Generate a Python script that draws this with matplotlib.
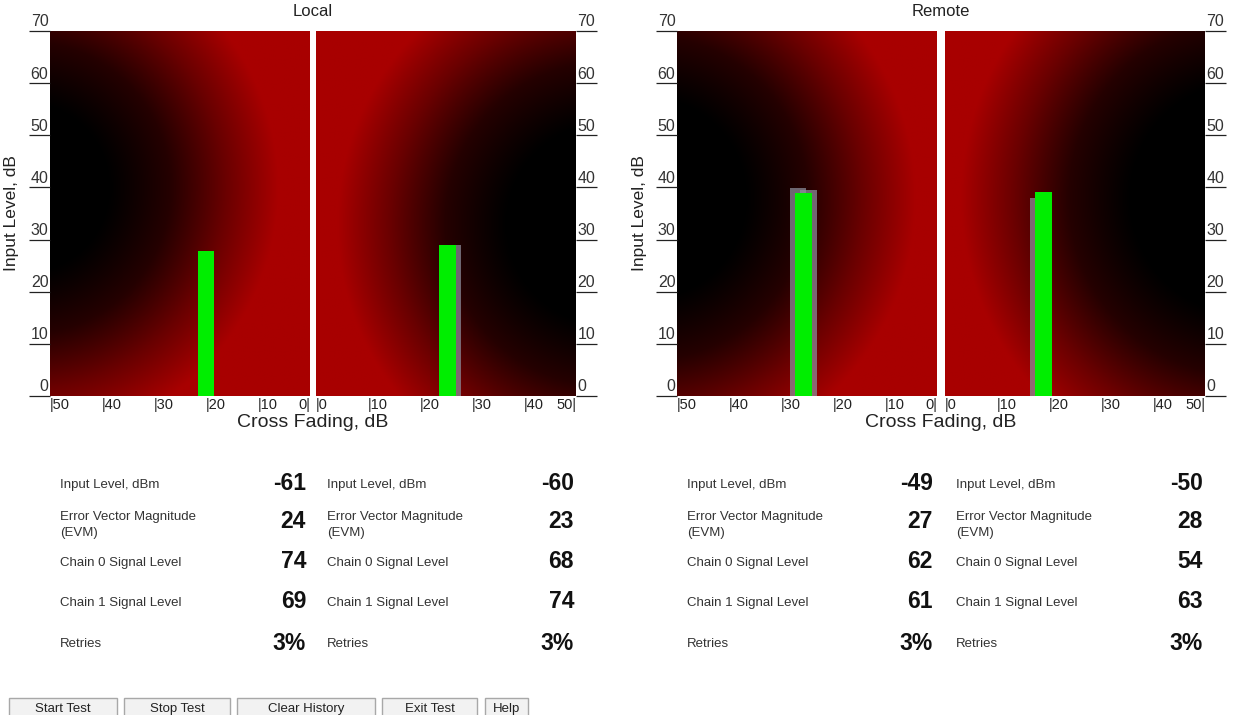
import numpy as np
import matplotlib
matplotlib.use("Agg")
import matplotlib.pyplot as plt
from matplotlib import font_manager
from matplotlib.colors import LinearSegmentedColormap
from matplotlib.patches import Rectangle
import matplotlib.transforms as mtransforms

# ---------------- data ----------------
group_titles = ["Local", "Remote"]
y_ticks = [0, 10, 20, 30, 40, 50, 60, 70]
x_ticks = [0, 10, 20, 30, 40, 50]

# current reading bars (cross fading dB, input level dB) per panel [left, right]
local_bar_pos = [20.0, 25.3]
local_bar_level = [27.8, 29.0]
remote_bar_pos = [25.7, 19.0]
remote_bar_level = [38.9, 39.1]

# history (grey) bars
local_hist_pos = [[], [26.2]]
local_hist_level = [[], [29.0]]
remote_hist_pos = [[26.7, 24.7], [18.0]]
remote_hist_level = [[39.9, 39.5], [38.0]]

stat_labels = ["Input Level, dBm", "Error Vector Magnitude\n(EVM)",
               "Chain 0 Signal Level", "Chain 1 Signal Level", "Retries"]
local_values_a = ["-61", "24", "74", "69", "3%"]
local_values_b = ["-60", "23", "68", "74", "3%"]
remote_values_a = ["-49", "27", "62", "61", "3%"]
remote_values_b = ["-50", "28", "54", "63", "3%"]

buttons = ["Start Test", "Stop Test", "Clear History", "Exit Test", "Help"]

# ---------------- style / layout ----------------
W, H = 1239, 715
plt.rcParams["font.family"] = ["Liberation Sans", "DejaVu Sans"]
names = {f.name for f in font_manager.fontManager.ttflist}
value_family = ["Liberation Sans Narrow", "Liberation Sans"] if "Liberation Sans Narrow" in names else ["Liberation Sans", "DejaVu Sans"]
value_size = 20.5 if "Liberation Sans Narrow" in names else 16.5

fig = plt.figure(figsize=(W / 100, H / 100), dpi=100)
fig.patch.set_facecolor("white")

def fx(x):
    return x / W

def fy(y):
    return 1 - y / H

cmap = LinearSegmentedColormap.from_list("rb", ["#000000", "#250000", "#6a0000", "#a80000"])

PANEL_TOP, PANEL_BOT = 31, 396
panels_px = {
    "Local": [(50, 310), (316, 576)],
    "Remote": [(677, 937), (945, 1205)],
}
# background field params: (cx, cy, r0, r1, gamma)
field_params = {
    "Local": [(55, 40, 16, 49, 1.1), (56, 33, 19, 52, 1.1)],
    "Remote": [(56, 38, 19, 52, 1.1), (58, 38, 22, 55, 1.1)],
}
bar_data = {
    "Local": (local_bar_pos, local_bar_level, local_hist_pos, local_hist_level),
    "Remote": (remote_bar_pos, remote_bar_level, remote_hist_pos, remote_hist_level),
}
value_data = {
    "Local": (local_values_a, local_values_b),
    "Remote": (remote_values_a, remote_values_b),
}

gx, gy = np.meshgrid(np.linspace(0, 50, 250), np.linspace(0, 70, 350))

for g in group_titles:
    pos, lev, hpos, hlev = bar_data[g]
    for side in range(2):
        x0, x1 = panels_px[g][side]
        ax = fig.add_axes([fx(x0), fy(PANEL_BOT), (x1 - x0) / W, (PANEL_BOT - PANEL_TOP) / H])
        cx, cy, r0, r1, gm = field_params[g][side]
        d = np.hypot(gx - cx, gy - cy)
        t = np.clip((d - r0) / (r1 - r0), 0, 1) ** gm
        ax.imshow(t, extent=[0, 50, 0, 70], origin="lower", aspect="auto",
                  cmap=cmap, vmin=0, vmax=1, interpolation="bilinear", zorder=0)
        if side == 0:
            ax.set_xlim(50, 0)
        else:
            ax.set_xlim(0, 50)
        ax.set_ylim(0, 70)
        ax.set_xticks([])
        ax.set_yticks([])
        for s in ax.spines.values():
            s.set_visible(False)

        # history bars then current bar
        if hpos[side]:
            ax.bar(hpos[side], hlev[side], width=3.2, color="#8a8a98", alpha=0.75,
                   align="center", zorder=2, linewidth=0)
        ax.bar([pos[side]], [lev[side]], width=3.2, color="#00ee00", align="center",
               zorder=3, linewidth=0)

        # x tick labels
        tr_x = mtransforms.blended_transform_factory(ax.transData, ax.transAxes)
        for v in x_ticks:
            if (v == 50 and side == 1) or (v == 0 and side == 0):
                ax.text(v, -0.006, "%d|" % v, transform=tr_x, ha="right", va="top",
                        fontsize=10.5, color="#222222")
            else:
                ax.text(v, -0.006, "|%d" % v, transform=tr_x, ha="left", va="top",
                        fontsize=10.5, color="#222222")

        # y tick labels with underline
        tr_y = mtransforms.blended_transform_factory(ax.transAxes, ax.transData)
        for v in y_ticks:
            if side == 0:
                ax.text(-0.006, v + 0.3, str(v), transform=tr_y, ha="right", va="bottom",
                        fontsize=11.5, color="#333333", clip_on=False)
                ax.plot([-0.082, 0], [v, v], transform=tr_y, color="#222222", lw=0.9,
                        clip_on=False, solid_capstyle="butt")
            else:
                ax.text(1.006, v + 0.3, str(v), transform=tr_y, ha="left", va="bottom",
                        fontsize=11.5, color="#333333", clip_on=False)
                ax.plot([1.0, 1.082], [v, v], transform=tr_y, color="#222222", lw=0.9,
                        clip_on=False, solid_capstyle="butt")

    # titles and axis labels
    xl = panels_px[g][0][0]
    xr = panels_px[g][1][1]
    xc = (panels_px[g][0][1] + panels_px[g][1][0]) / 2
    fig.text(fx(xc), fy(12), g, ha="center", va="center", fontsize=12, color="#222222")
    fig.text(fx(xc), fy(422), "Cross Fading, dB", ha="center", va="center",
             fontsize=14, color="#222222")
    fig.text(fx(xl - 38), fy(213), "Input Level, dB", ha="center", va="center",
             rotation=90, fontsize=12.5, color="#222222")

    # statistics
    va_list, vb_list = value_data[g]
    row_y = [485, 525, 563, 603, 644]
    lab_x = [xl + 10, panels_px[g][1][0] + 11]
    val_x = [panels_px[g][0][1] - 4, xr - 2]
    for k in range(2):
        vals = va_list if k == 0 else vb_list
        for r, lab in enumerate(stat_labels):
            fig.text(fx(lab_x[k]), fy(row_y[r]), lab, ha="left", va="center",
                     fontsize=9.5, color="#333333", linespacing=1.5)
            fig.text(fx(val_x[k]), fy(row_y[r] - 1 - (3 if r == 1 else 0)), vals[r],
                     ha="right", va="center", fontsize=value_size, fontweight="bold",
                     color="#111111", family=value_family)

# buttons
button_px = [(9, 117), (124, 230), (237, 375), (382, 477), (485, 528)]
for (b0, b1), lab in zip(button_px, buttons):
    rect = Rectangle((fx(b0), fy(725)), (b1 - b0) / W, 27 / H, transform=fig.transFigure,
                     facecolor="#f2f2f2", edgecolor="#a8a8a8", linewidth=1.0, clip_on=False)
    fig.patches.append(rect)
    fig.text(fx((b0 + b1) / 2), fy(709), lab, ha="center", va="center", fontsize=9.5,
             color="#222222")

fig.savefig("out.png", dpi=100, facecolor="white")
